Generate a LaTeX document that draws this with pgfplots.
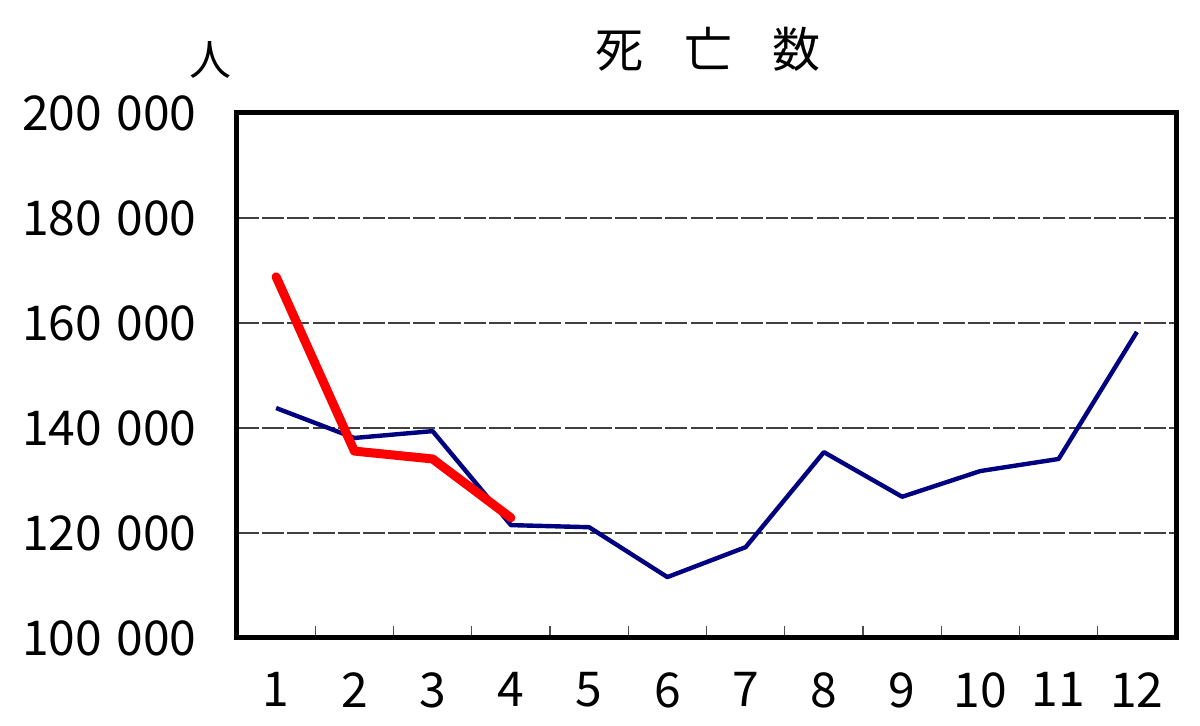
\documentclass[border=0pt]{standalone}
\usepackage{fontspec}
\setmainfont{Noto Sans CJK JP}
\usepackage{pgfplots}
\pgfplotsset{compat=1.18}
\definecolor{navyline}{RGB}{0,0,128}
\begin{document}
\begin{tikzpicture}
\path[use as bounding box] (0,0) rectangle (600pt,363pt);
\begin{axis}[
  at={(118.5pt,44pt)}, anchor=south west,
  scale only axis, width=469.5pt, height=262.5pt,
  xmin=0.5, xmax=12.5, ymin=100000, ymax=200000,
  scaled y ticks=false,
  xtick={1,...,12},
  minor xtick={1.5,2.5,...,11.5},
  ytick={100000,120000,140000,160000,180000,200000},
  yticklabels={100\hspace{0.3em}000,120\hspace{0.3em}000,140\hspace{0.3em}000,160\hspace{0.3em}000,180\hspace{0.3em}000,200\hspace{0.3em}000},
  /pgf/number format/assume math mode=true,
  ymajorgrids,
  major grid style={black!75, line width=0.6pt, dash pattern=on 11pt off 1.6pt},
  axis line style={line width=2.5pt, line cap=rect},
  major tick length=0pt,
  minor tick length=6pt,
  tick align=inside,
  xtick pos=bottom, ytick pos=left,
  minor tick style={black!70, line width=0.6pt},
  xticklabel style={font=\fontsize{24}{28}\selectfont, inner sep=0pt, anchor=north, yshift=-17pt},
  yticklabel style={font=\fontsize{24}{28}\selectfont, inner sep=0pt, anchor=east, xshift=-20pt},
  clip=false,
]
\addplot[navyline, line width=2.2pt, line join=round] coordinates {
  (1,143800) (2,138100) (3,139400) (4,121500) (5,121100) (6,111600)
  (7,117300) (8,135400) (9,126900) (10,131800) (11,134100) (12,158300)
};
\addplot[red, line width=4.5pt, line cap=round, line join=round] coordinates {
  (1,168800) (2,135600) (3,134100) (4,122900)
};
\end{axis}
\node[font=\fontsize{24}{28}\selectfont] at (354pt,338.5pt) {死\hspace{0.85em}亡\hspace{0.85em}数};
\node[font=\fontsize{21}{24}\selectfont] at (105pt,333pt) {人};
\end{tikzpicture}
\end{document}
